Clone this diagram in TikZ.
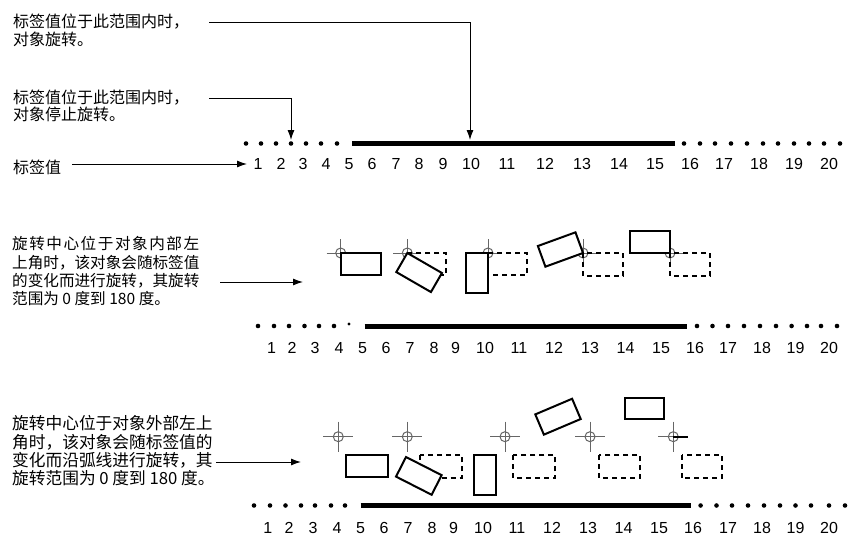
\documentclass[tikz,border=0pt]{standalone}
\usepackage{fontspec}
\setmainfont{Liberation Sans}
\newfontfamily\cjk{Noto Sans CJK SC}
\usetikzlibrary{arrows.meta,calc}
\begin{document}
\begin{tikzpicture}[x=1pt,y=-1pt,
  txtA/.style={anchor=base west,inner sep=0,font=\cjk\fontsize{16}{18}\selectfont},
  txtB/.style={anchor=base west,inner sep=0,font=\cjk\fontsize{15.6}{18}\selectfont},
  txtC/.style={anchor=base west,inner sep=0,font=\cjk\fontsize{16.7}{18}\selectfont},
  num/.style={anchor=base,inner sep=0,font=\fontsize{16}{18}\selectfont},
  arr/.style={line width=1pt,-{Latex[length=10pt,width=7pt]}},
  thickbar/.style={line width=5pt},
  objrect/.style={line width=2pt,fill=white},
  ghost/.style={line width=2pt,dash pattern=on 5pt off 4pt},
  cross/.style={line width=1pt,draw=black!60},
]
\useasboundingbox (0,0) rectangle (854,535);
\fill[white] (0,0) rectangle (854,535);

% ---------- Section 1 ----------
\node[txtA] (t1a) at (13,28) {标签值位于此范围内时，};
\node[txtA] (t1b) at (13,46) {对象旋转。};
\node[txtA] (t2a) at (13,103) {标签值位于此范围内时，};
\node[txtA] (t2b) at (13,121) {对象停止旋转。};
\node[txtA] (t3) at (13,173) {标签值};

\foreach \x in {246,261,276,291,306,321,337} \fill (\x,143.5) circle (2.3);
\foreach \x in {684,700,715,731,747,763,778,794,809,824,840} \fill (\x,143.5) circle (2.3);
\draw[thickbar] (352,143.5) -- (675,143.5);
\foreach \n/\x in {1/258,2/281,3/303,4/326,5/349,6/372,7/396,8/419,9/443,10/471,11/507,12/545,13/582,14/619,15/655,16/690,17/724,18/759,19/794,20/829}
  \node[num] (ra\n) at (\x,169.5) {\n};

\coordinate (s1) at (209,23);
\coordinate (e1) at (470,140);
\coordinate (s2) at (209,98);
\coordinate (e2) at (291,140);
\coordinate (s3) at (72,164);
\coordinate (e3) at (247,164);
\draw[arr] (s1) -| (e1);
\draw[arr] (s2) -| (e2);
\draw[arr] (s3) -- (e3);

% ---------- Section 2 ----------
\node[txtB] (u1) at (12,249) {\makebox[187pt][s]{旋\hfill 转\hfill 中\hfill 心\hfill 位\hfill 于\hfill 对\hfill 象\hfill 内\hfill 部\hfill 左}};
\node[txtB] (u2) at (12,268) {上角时，该对象会随标签值};
\node[txtB] (u3) at (12,286) {的变化而进行旋转，其旋转};
\node[txtB] (u4) at (12,304) {范围为 0 度到 180 度。};
\coordinate (s4) at (220,282);
\coordinate (e4) at (303,282);
\draw[arr] (s4) -- (e4);

% crosshairs
\foreach \i/\x in {1/340.7,2/407.3,3/488,4/583,5/670} {
  \coordinate (p\i) at (\x,253);
  \draw[cross] (\x-14,253) -- (\x+14,253) (\x,239) -- (\x,267);
  \draw[cross] (p\i) circle (5);
}
% ghost (start position) rectangles
\draw[ghost] (p2) rectangle ++(39,22);
\draw[ghost] (p3) rectangle ++(39,22);
\draw[ghost] (p4) rectangle ++(40,23);
\draw[ghost] (p5) rectangle ++(40,23);
% rotated objects
\draw[objrect] (p1) rectangle ++(40,22);
\draw[objrect,rotate around={-30:(p2)}] (p2) rectangle ++(40,22);
\draw[objrect,rotate around={-90:(p3)}] (p3) rectangle ++(40,22);
\draw[objrect,rotate around={-160:(p4)}] (p4) rectangle ++(40,22);
\draw[objrect,rotate around={-180:(p5)}] (p5) rectangle ++(40,22);

\foreach \x in {258,274,289,304.5,319,334} \fill (\x,326) circle (2.3);
\fill (349,324) circle (1.6);
\foreach \x in {697,712.5,728,744,760,776,791.6,807,821,837} \fill (\x,326) circle (2.3);
\draw[thickbar] (364.5,326) -- (687,326);
\foreach \n/\x in {1/271.6,2/292,3/315,4/339,5/362.6,6/386,7/410,8/434,9/455.5,10/485,11/519,12/554,13/590,14/625.5,15/661,16/695,17/728,18/762,19/795.5,20/829}
  \node[num] (rb\n) at (\x,353) {\n};

% ---------- Section 3 ----------
\node[txtC] (v1) at (12,429) {旋转中心位于对象外部左上};
\node[txtC] (v2) at (12,448) {角时，该对象会随标签值的};
\node[txtC] (v3) at (12,466) {变化而沿弧线进行旋转，其};
\node[txtC] (v4) at (12,484) {旋转范围为 0 度到 180 度。};
\coordinate (s5) at (216,462);
\coordinate (e5) at (301,462);
\draw[arr] (s5) -- (e5);

\foreach \i/\x in {1/338.3,2/407.3,3/505,4/590,5/673.3} {
  \coordinate (q\i) at (\x,436.7);
  \draw[cross] (\x-15,436.7) -- (\x+15,436.7) (\x,421.7) -- (\x,451.7);
  \draw[cross] (q\i) circle (5);
}
\draw[line width=2pt] (q5) -- ++(15,0);

\draw[ghost] (420,455) rectangle (461.7,478.3);
\draw[ghost] (513.3,455) rectangle (555,478.3);
\draw[ghost] (599.3,455) rectangle (640,478.3);
\draw[ghost] (681.7,455) rectangle (722,478.3);

\draw[objrect] (346,455) rectangle (387.7,477.3);
\coordinate (c2) at (406,457);
\draw[objrect,rotate around={-27:(c2)}] (c2) rectangle ++(40,22);
\draw[objrect] (474,455) rectangle (495.7,495);
\coordinate (c4) at (558,416.7);
\draw[objrect,rotate around={23:(c4)}] ($(c4)+(-20,-11)$) rectangle ++(40,22);
\draw[objrect] (625,398.3) rectangle (664,419.3);

\foreach \x in {254,270,285.5,301,315,331,345} \fill (\x,505.5) circle (2.3);
\foreach \x in {700.6,716.5,732,748,764,780,795.5,811,829,845} \fill (\x,505.5) circle (2.3);
\draw[thickbar] (360.6,505.5) -- (690.8,505.5);
\foreach \n/\x in {1/267.7,2/289,3/313,4/337,5/360.6,6/384,7/408,8/432,9/453.5,10/483,11/517,12/552,13/588,14/623.5,15/659,16/693,17/728,18/762,19/795.5,20/829}
  \node[num] (rc\n) at (\x,533) {\n};
\end{tikzpicture}
\end{document}
